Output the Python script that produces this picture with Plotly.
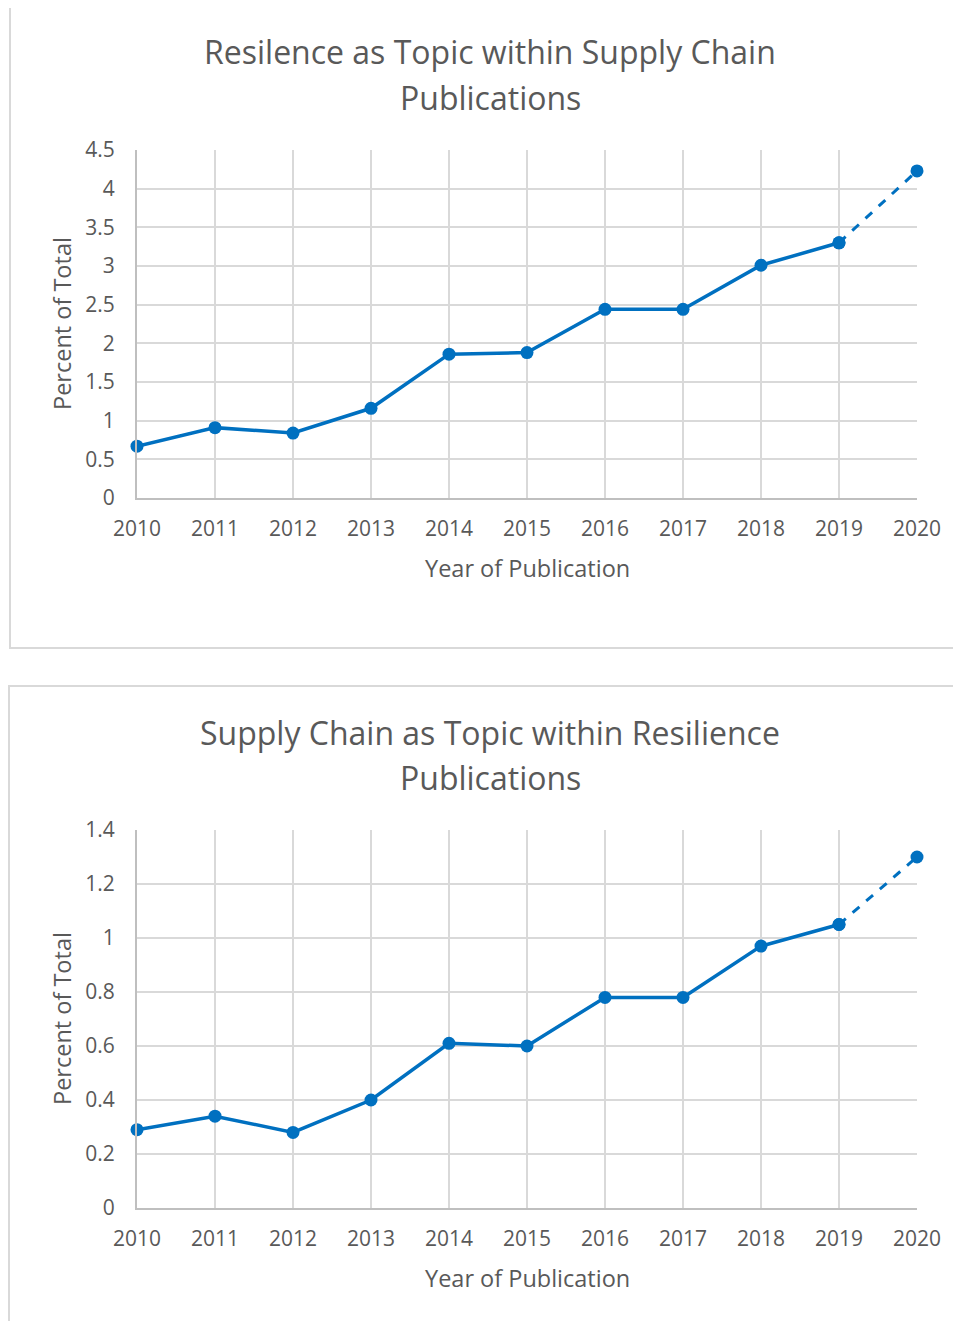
import plotly.graph_objects as go

# ── Datos ───────────────────────────────────────────────────────
years = [2010, 2011, 2012, 2013, 2014, 2015, 2016, 2017, 2018, 2019, 2020]
resilience_in_sc = [0.67, 0.91, 0.84, 1.16, 1.86, 1.88, 2.44, 2.44, 3.01, 3.30, 4.23]
sc_in_resilience = [0.29, 0.34, 0.28, 0.40, 0.61, 0.60, 0.78, 0.78, 0.97, 1.05, 1.30]

title_lines = [
    ("Resilence as Topic within Supply Chain", "Publications"),
    ("Supply Chain as Topic within Resilience", "Publications"),
]

# ── Constantes visuales ─────────────────────────────────────────
OFF = 8                      # margen por defecto del <body>
W, H = 961 - OFF, 1321 - OFF
BLUE = "#0070C0"
TEXT = "#595959"
GRID = "#d9d9d9"
FONT = "Open Sans"


def py(px_y):
    """pixel y de pantalla (desde arriba) -> coordenada paper"""
    return 1 - (px_y - OFF) / H


def px_x(px):
    return (px - OFF) / W


fig = go.Figure()

panels = [
    # (datos, eje, y_top, y_bottom, rango, dtick, caja)
    (resilience_in_sc, "", 150, 498, [0, 4.5], 0.5, (10, 7, 968, 648)),
    (sc_in_resilience, "2", 830, 1208, [0, 1.4], 0.2, (9, 686, 968, 1330)),
]

for i, (vals, ax, ytop, ybot, rng, dt, box) in enumerate(panels):
    xa = "x" + ax
    ya = "y" + ax
    # tramo sólido 2010-2019
    fig.add_trace(go.Scatter(
        x=years[:-1], y=vals[:-1], mode="lines+markers",
        line=dict(color=BLUE, width=3.5),
        marker=dict(color=BLUE, size=13),
        cliponaxis=False, showlegend=False,
        xaxis=xa, yaxis=ya,
    ))
    # tramo punteado 2019-2020
    fig.add_trace(go.Scatter(
        x=years[-2:], y=vals[-2:], mode="lines+markers",
        line=dict(color=BLUE, width=3, dash="dash"),
        marker=dict(color=BLUE, size=13),
        cliponaxis=False, showlegend=False,
        xaxis=xa, yaxis=ya,
    ))

    xkey = "xaxis" + ax
    ykey = "yaxis" + ax
    fig.update_layout(**{
        xkey: dict(
            domain=[px_x(137), px_x(917)],
            range=[2010, 2020],
            tickmode="array", tickvals=years, ticktext=[str(y) for y in years],
            showgrid=True, gridcolor=GRID, gridwidth=2,
            showline=True, linecolor="#bfbfbf", linewidth=2, mirror=False,
            zeroline=False, ticks="", ticklabelstandoff=11,
            tickfont=dict(family=FONT, size=21, color=TEXT),
            anchor=ya,
        ),
        ykey: dict(
            domain=[py(ybot), py(ytop)],
            range=rng, dtick=dt,
            showgrid=True, gridcolor=GRID, gridwidth=2,
            showline=True, linecolor="#bfbfbf", linewidth=2,
            zeroline=False, ticks="", ticklabelstandoff=16,
            tickfont=dict(family=FONT, size=21, color=TEXT),
            anchor=xa,
        ),
    })

    # caja del gráfico
    x0, y0, x1, y1 = box
    fig.add_shape(type="rect", xref="paper", yref="paper",
                  x0=px_x(x0), x1=px_x(x1), y0=py(y1), y1=py(y0),
                  line=dict(color="#d9d9d9", width=2))

    # título (dos líneas)
    for j, line in enumerate(title_lines[i]):
        fig.add_annotation(
            text=line, xref="paper", yref="paper",
            x=px_x(490), y=py(ytop - 98 + 45 * j),
            xanchor="center", yanchor="middle",
            showarrow=False,
            font=dict(family=FONT, size=32, color=TEXT),
        )
    # títulos de ejes
    fig.add_annotation(
        text="Year of Publication", xref="paper", yref="paper",
        x=px_x(527), y=py(ybot + 70), xanchor="center", yanchor="middle",
        showarrow=False, font=dict(family=FONT, size=23.5, color=TEXT),
    )
    fig.add_annotation(
        text="Percent of Total", xref="paper", yref="paper",
        x=px_x(62), y=py((ytop + ybot) / 2), xanchor="center", yanchor="middle",
        textangle=-90, showarrow=False,
        font=dict(family=FONT, size=23.5, color=TEXT),
    )

fig.update_layout(
    width=W, height=H,
    margin=dict(l=0, r=0, t=0, b=0, autoexpand=False),
    paper_bgcolor="white", plot_bgcolor="white",
)

fig.write_html("out.html")
